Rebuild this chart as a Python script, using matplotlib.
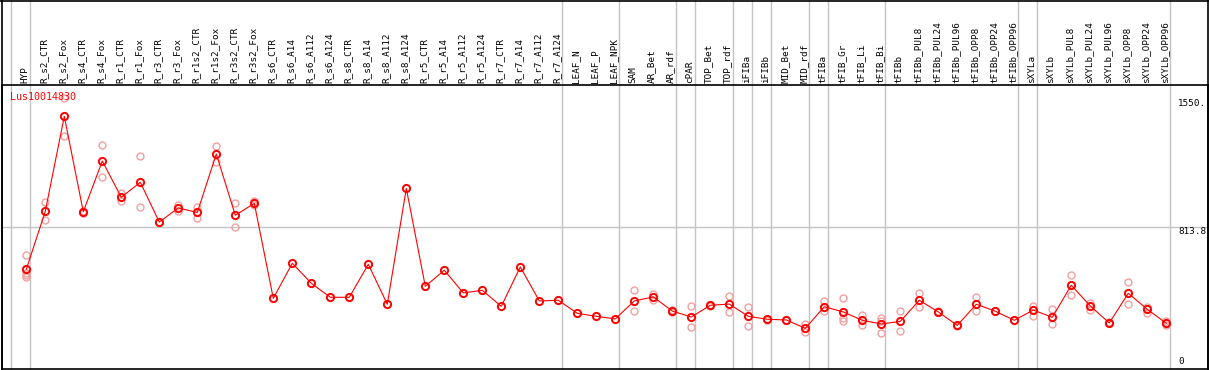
import matplotlib.pyplot as plt
from matplotlib.lines import Line2D

# サンプル名
samples = ["HYP", "R_s2_CTR", "R_s2_Fox", "R_s4_CTR", "R_s4_Fox", "R_r1_CTR", "R_r1_Fox",
           "R_r3_CTR", "R_r3_Fox", "R_r1s2_CTR", "R_r1s2_Fox", "R_r3s2_CTR", "R_r3s2_Fox",
           "R_s6_CTR", "R_s6_A14", "R_s6_A112", "R_s6_A124", "R_s8_CTR", "R_s8_A14",
           "R_s8_A112", "R_s8_A124", "R_r5_CTR", "R_r5_A14", "R_r5_A112", "R_r5_A124",
           "R_r7_CTR", "R_r7_A14", "R_r7_A112", "R_r7_A124", "LEAF_N", "LEAF_P", "LEAF_NPK",
           "SAM", "AR_Bet", "AR_rdf", "cPAR", "TOP_Bet", "TOP_rdf", "iFIBa", "iFIBb",
           "MID_Bet", "MID_rdf", "tFIBa", "tFIB_Gr", "tFIB_Li", "tFIB_Bi", "tFIBb",
           "tFIBb_PUL8", "tFIBb_PUL24", "tFIBb_PUL96", "tFIBb_OPP8", "tFIBb_OPP24",
           "tFIBb_OPP96", "sXYLa", "sXYLb", "sXYLb_PUL8", "sXYLb_PUL24", "sXYLb_PUL96",
           "sXYLb_OPP8", "sXYLb_OPP24", "sXYLb_OPP96"]

# 平均値
means = [571, 904, 1448, 901, 1192, 984, 1070, 842, 923, 897, 1232, 881, 949,
         405, 606, 491, 411, 411, 600, 371, 1035, 474, 566, 436, 451, 359, 585, 390, 394,
         319, 302, 287, 390, 413, 332, 298, 365, 372, 302, 285, 281, 233, 357, 327, 279,
         258, 273, 394, 327, 250, 371, 331, 279, 338, 296, 480, 361, 264, 434, 342, 262]

# 反復測定値
replicates = [[653, 548, 539, 529], [955, 852], [1551, 1337], [907, 892], [1282, 1098],
              [1009, 965], [1219, 926], [845, 840], [942, 907], [930, 867], [1278, 1188],
              [951, 814], [965, 940],
              [], [], [], [], [], [], [], [], [], [], [], [], [], [], [], [], [], [], [],
              [451, 331], [428, 394], [336, 328], [361, 239], [368, 362], [418, 325],
              [355, 245], [289, 281], [283, 279], [258, 212], [390, 334], [405, 290, 277],
              [309, 250], [290, 276, 208], [332, 218], [436, 354], [330, 324], [253, 247],
              [413, 331], [331], [279], [363, 302], [342, 256], [537, 422], [376, 338],
              [267, 261], [497, 372], [355, 323], [273, 255]]

# グループ境界 (このサンプル数の後)
boundaries = [0, 1, 29, 32, 35, 36, 38, 39, 40, 42, 43, 46, 53, 54, 61]

gene = "Lus10014830"
y_max = 1550.0
y_top = y_max * 1.05
y_labels = [1550.0, y_top / 2, 0]

W, H = 1209, 370
fig = plt.figure(figsize=(W / 100, H / 100), dpi=100)

# ピクセル座標: 点 i は x = 26.3 + 19*i
x0, dx = 26.3, 19.0
left_px, right_px, top_px, bot_px = 1.5, 1208.0, 85.0, 369.0
ax = fig.add_axes([left_px / W, (H - bot_px) / H, (right_px - left_px) / W, (bot_px - top_px) / H])
ax.set_xlim((left_px - x0) / dx, (right_px - x0) / dx)
ax.set_ylim(0, y_top)
ax.set_xticks([])
ax.set_yticks([])
for s in ax.spines.values():
    s.set_color('black')
    s.set_linewidth(1.2)

ext = 1 + top_px / (bot_px - top_px)
grey = '#c4c4c4'
for k in boundaries:
    ax.axvline(k - (x0 - 11) / dx, ymin=0, ymax=ext, color=grey, lw=1.0, clip_on=False, zorder=1)
ax.axhline(y_top / 2, color=grey, lw=1.0, zorder=1)

# 反復値 (薄い赤)
for i, reps in enumerate(replicates):
    if reps:
        ax.plot([i] * len(reps), reps, 'o', mfc='none', mec='#f0a0a0', ms=5, mew=1.0, zorder=2)

x = list(range(len(samples)))
ax.plot(x, means, '-', color='red', lw=0.8, zorder=3)
ax.plot(x, means, 'o', mfc='none', mec='red', ms=5.2, mew=1.4, zorder=4)

mono = 'DejaVu Sans Mono'
for i, name in enumerate(samples):
    ax.text(i - 0.08, 1 + 2 / (bot_px - top_px), name, rotation=90, ha='center', va='bottom',
            fontsize=6.7, family=mono, transform=ax.get_xaxis_transform(), clip_on=False)

ax.text(9 / dx + (left_px - x0) / dx, 0.959, gene, color='red', fontsize=7.2, family=mono,
        ha='left', va='center', transform=ax.get_xaxis_transform())

xl = (1178 - x0) / dx
ax.text(xl, y_labels[0], '1550.', fontsize=6.7, family=mono, ha='left', va='top')
ax.text(xl, y_labels[1], '%.1f' % y_labels[1], fontsize=6.7, family=mono, ha='left', va='top')
ax.text(xl, y_labels[2] + 20, '0', fontsize=6.7, family=mono, ha='left', va='bottom')

# 外枠
for xs, ys in [([1.5, 1.5], [0, H]), ([1208, 1208], [0, H]), ([0, W], [0.5, 0.5])]:
    fig.add_artist(Line2D([v / W for v in xs], [1 - v / H for v in ys], color='black', lw=1.2,
                          transform=fig.transFigure))

fig.savefig('out.png', dpi=100)
